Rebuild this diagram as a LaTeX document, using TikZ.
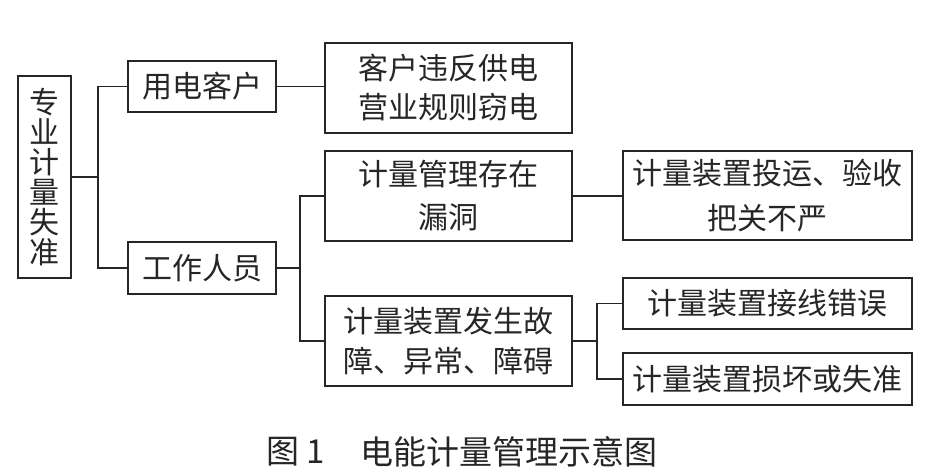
\documentclass[tikz,border=0pt]{standalone}
\usepackage{fontspec}
\newfontfamily\cjk{Noto Sans CJK SC}
\begin{document}
\begin{tikzpicture}[x=1pt,y=-1pt,
  box/.style={draw=black!85, line width=1.8pt, inner sep=0pt, align=center, text=black!85},
  conn/.style={draw=black!85, line width=1.7pt},
  bfont/.style={font=\cjk\fontsize{30}{#1}\selectfont},
  bfont/.default=40]
\useasboundingbox[fill=white] (0,0) rectangle (942,475);
\node[box, bfont=30, minimum width=53pt, minimum height=202pt] (root) at (44.5,177) {专\\业\\计\\量\\失\\准};
\node[box, bfont, minimum width=148pt, minimum height=51pt] (yd) at (202,86.5) {用电客户};
\node[box, bfont, minimum width=148pt, minimum height=52pt] (gz) at (202,268) {工作人员};
\node[box, bfont=39, minimum width=247pt, minimum height=90pt] (a) at (448.5,88) {客户违反供电\\营业规则窃电};
\node[box, bfont=43, minimum width=247pt, minimum height=90pt] (b) at (448.5,196) {计量管理存在\\漏洞};
\node[box, bfont=40, minimum width=247pt, minimum height=90pt] (c) at (448.5,341) {计量装置发生故\\障、异常、障碍};
\node[box, bfont=45, minimum width=289pt, minimum height=89pt] (d) at (767.5,195.5) {计量装置投运、验收\\把关不严};
\node[box, bfont, minimum width=289pt, minimum height=51pt] (e) at (767.5,303.5) {计量装置接线错误};
\node[box, bfont, minimum width=289pt, minimum height=52pt] (f) at (767.5,379) {计量装置损坏或失准};
\coordinate (j1) at (98,177);
\coordinate (j2) at (300,268);
\coordinate (j3) at (597,341);
\draw[conn] (root.east) -- (j1);
\draw[conn] (yd.west) -- (yd.west -| j1) -- (gz.west -| j1) -- (gz.west);
\draw[conn] (yd.east) -- (yd.east -| a.west);
\draw[conn] (gz.east) -- (j2);
\draw[conn] (b.west) -- (b.west -| j2) -- (c.west -| j2) -- (c.west);
\draw[conn] (b.east) -- (b.east -| d.west);
\draw[conn] (c.east) -- (j3);
\draw[conn] (e.west) -- (e.west -| j3) -- (f.west -| j3) -- (f.west);
\node[anchor=west, inner sep=0pt, font=\cjk\fontsize{33}{33}\selectfont, text=black!85] (cap1) at (266,452) {图 1};
\node[anchor=west, inner sep=0pt, font=\cjk\fontsize{33}{33}\selectfont, text=black!85] (cap2) at (360,452) {电能计量管理示意图};
\end{tikzpicture}
\end{document}
